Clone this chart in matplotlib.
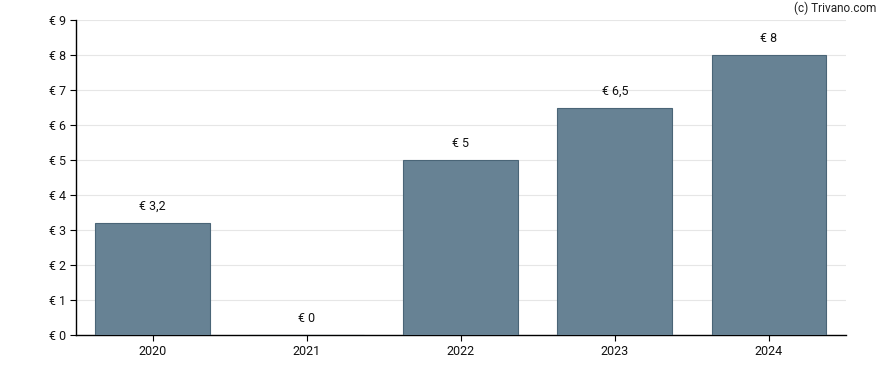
import matplotlib
matplotlib.use("Agg")
import matplotlib.pyplot as plt

years = ["2020", "2021", "2022", "2023", "2024"]
values = [3.2, 0, 5, 6.5, 8]
labels = ["€ 3,2", "€ 0", "€ 5", "€ 6,5", "€ 8"]
yticks = list(range(0, 10))
ytick_labels = [f"€ {v}" for v in yticks]

plt.rcParams['font.family'] = ['Roboto', 'DejaVu Sans']

fig = plt.figure(figsize=(8.88, 3.70), dpi=100)
ax = fig.add_axes([75.5/888, 35/370, (846-75.5)/888, 315/370])

x = list(range(len(years)))
ax.bar(x, values, width=0.745, color="#678294", edgecolor="#4a6577", linewidth=0.8, zorder=3)
for xi, v, lab in zip(x, values, labels):
    ax.text(xi, v + 0.28, lab, ha="center", va="bottom", fontsize=9, color="#111111")

ax.set_xlim(-0.5, len(years) - 0.5)
ax.set_ylim(0, 9)
ax.set_yticks(yticks)
ax.set_yticklabels(ytick_labels, fontsize=9)
ax.set_xticks(x)
ax.set_xticklabels(years, fontsize=9)
ax.grid(axis="y", color="#e6e6e6", linewidth=0.8, zorder=0)
for s in ["top", "right"]:
    ax.spines[s].set_visible(False)
ax.spines["left"].set_linewidth(1.0)
ax.spines["bottom"].set_linewidth(1.0)
ax.tick_params(axis="both", length=4, width=0.8, colors="#000000", labelcolor="#111111")
ax.tick_params(axis="y", pad=3)
ax.tick_params(axis="x", pad=3)

fig.text(876/888, 1 - 8/370, "(c) Trivano.com", ha="right", va="center", fontsize=8.5, color="#222222")

fig.savefig("out.png", dpi=100)
